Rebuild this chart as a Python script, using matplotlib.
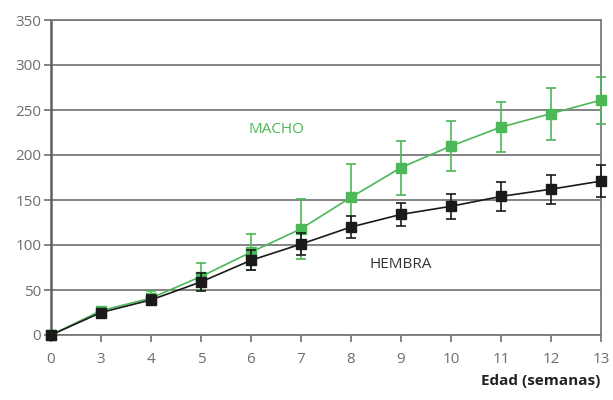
"""Growth curve of males and females by age in weeks."""
import matplotlib
matplotlib.use('Agg')
import matplotlib.pyplot as plt

plt.rcParams['font.family'] = ['Open Sans', 'DejaVu Sans']

weeks = ['0', '3', '4', '5', '6', '7', '8', '9', '10', '11', '12', '13']

macho = [0, 27, 41, 65, 92, 118, 153, 186, 210, 231, 246, 261]
macho_err = [0, 3, 8, 15, 20, 33, 37, 30, 28, 28, 29, 26]

hembra = [0, 25, 39, 59, 83, 101, 120, 134, 143, 154, 162, 171]
hembra_err = [0, 3, 6, 10, 11, 12, 12, 13, 14, 16, 16, 18]

green = '#4cb858'
black = '#1a1a1a'
grid_grey = '#7a7a7a'
text_grey = '#6e6e6e'

fig = plt.figure(figsize=(6.13, 4.0), dpi=100)
ax = fig.add_axes([0.0832, 0.1625, 0.8972, 0.7875])

pos = list(range(len(weeks)))

ax.errorbar(pos, macho, yerr=macho_err, color=green, marker='s', markersize=7.5,
            linewidth=1.2, elinewidth=1.2, capsize=3.5, capthick=1.2,
            clip_on=False, zorder=3)
ax.errorbar(pos, hembra, yerr=hembra_err, color=black, marker='s', markersize=7.5,
            linewidth=1.2, elinewidth=1.2, capsize=3.5, capthick=1.2,
            clip_on=False, zorder=4)

ax.set_xlim(0, len(weeks) - 1)
ax.set_ylim(0, 350)
ax.set_xticks(pos)
ax.set_xticklabels(weeks)
ax.set_yticks(range(0, 351, 50))

ax.yaxis.grid(True, color=grid_grey, linewidth=1.3)
ax.set_axisbelow(True)
for side in ['left', 'right', 'top', 'bottom']:
    ax.spines[side].set_color(grid_grey)
    ax.spines[side].set_linewidth(1.3)
ax.spines['left'].set_color('#606060')
ax.spines['left'].set_linewidth(1.8)

ax.tick_params(axis='both', colors=grid_grey, labelcolor=text_grey,
               labelsize=11, length=5, width=1.3)
ax.tick_params(axis='x', pad=7)
ax.tick_params(axis='y', pad=2)

ax.text(4.5, 228, 'MACHO', color=green, fontsize=11, ha='center', va='center')
ax.text(7.0, 78, 'HEMBRA', color='#333333', fontsize=11, ha='center', va='center')

fig.text(0.979, 0.047, 'Edad (semanas)', ha='right', va='center',
         fontsize=11, fontweight='bold', color='#222222')

plt.savefig('out.png', dpi=100)
